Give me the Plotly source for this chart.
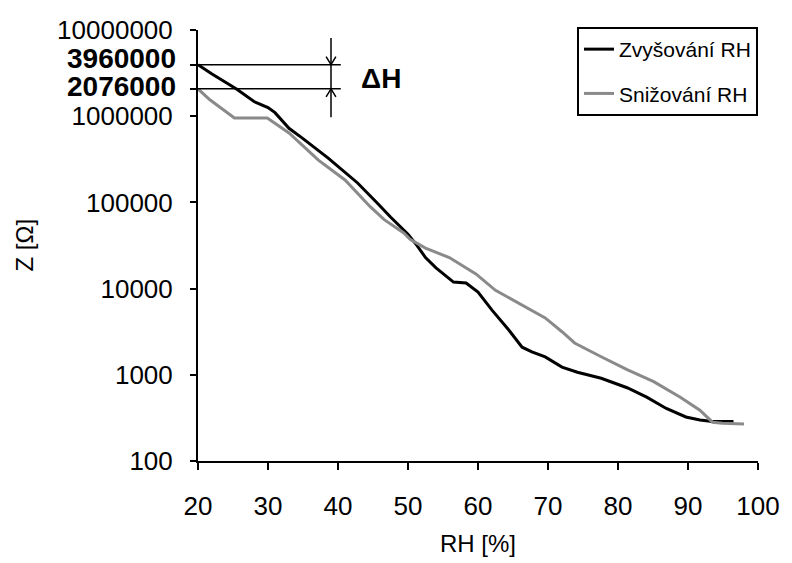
import numpy as np
import plotly.graph_objects as go

# Relative humidity [%] and impedance Z [Ohm] for rising RH
rh_up = [20, 22, 25.5, 28, 30, 31, 33, 35, 38.6, 42.8, 45.6, 47.5, 50, 51.3, 52.5,
         54, 56.5, 58.3, 60, 62, 64.4, 66.3, 67.7, 69.6, 72, 74.2, 77.6, 81.3,
         84.1, 86.9, 89.7, 91.7, 93.5, 96.5]
z_up = [3960000, 3090000, 2070000, 1480000, 1260000, 1100000, 724000, 550000,
        327000, 168000, 98400, 67600, 42700, 31600, 22900, 17400, 11900, 11600,
        9120, 5620, 3310, 2090, 1840, 1610, 1230, 1070, 912, 708, 550, 407, 324,
        299, 288, 288]

# Relative humidity [%] and impedance Z [Ohm] for falling RH
rh_down = [20, 21.7, 25.2, 29.9, 33, 37.2, 41, 44.6, 46.6, 49.4, 50.3, 52.5, 55.9,
           59.7, 62.5, 65.8, 69.6, 72, 73.8, 77.6, 81.3, 85.1, 88.9, 91.7, 93.5,
           94.9, 98]
z_down = [2076000, 1550000, 955000, 955000, 638000, 309000, 182000, 89100, 63100,
          44200, 37200, 29500, 22900, 14800, 9550, 6760, 4570, 3160, 2340, 1620,
          1150, 832, 550, 389, 282, 275, 269]

series_names = ["Zvyšování RH", "Snižování RH"]
series_colors = ["#000000", "#8a8a8a"]

x_ticks = [20, 30, 40, 50, 60, 70, 80, 90, 100]
y_ticks = [100, 1000, 10000, 100000, 1000000, 10000000]
y_tick_text = ["100", "1000", "10000", "100000", "1000000", "10000000"]

# Hysteresis markers: Z at RH = 20 % for both directions
hyst_values = [3960000, 2076000]
hyst_labels = ["3960000", "2076000"]
hyst_text = "ΔH"

FONT = "Liberation Sans, Arial, sans-serif"

fig = go.Figure()
for xs, ys, name, col in [(rh_up, z_up, series_names[0], series_colors[0]),
                          (rh_down, z_down, series_names[1], series_colors[1])]:
    fig.add_trace(go.Scatter(x=xs, y=ys, mode="lines", name=name, legendgroup=name,
                             line=dict(color=col, width=3)))

# ΔH bracket: two horizontal guides, a vertical bar and chevrons
hi, lo = hyst_values
x_bar, x_end = 39.0, 40.4
dec = 0.0928  # ~8 px in decades
half = 0.7    # ~5 px in RH units
line_style = dict(color="black", width=1.5)
shapes = [
    dict(type="line", xref="x", yref="y", x0=20, x1=x_end, y0=hi, y1=hi, line=line_style),
    dict(type="line", xref="x", yref="y", x0=20, x1=x_end, y0=lo, y1=lo, line=line_style),
    dict(type="line", xref="x", yref="y", x0=x_bar, x1=x_bar,
         y0=10 ** (np.log10(hi) + 0.31), y1=10 ** (np.log10(lo) - 0.33), line=line_style),
    dict(type="path", xref="x", yref="y", line=line_style,
         path=f"M{x_bar - half},{10 ** (np.log10(hi) + dec)} L{x_bar},{hi} L{x_bar + half},{10 ** (np.log10(hi) + dec)}"),
    dict(type="path", xref="x", yref="y", line=line_style,
         path=f"M{x_bar - half},{10 ** (np.log10(lo) - dec)} L{x_bar},{lo} L{x_bar + half},{10 ** (np.log10(lo) - dec)}"),
]

annotations = [
    dict(text=hyst_labels[0], xref="paper", yref="y", x=0, y=np.log10(hi),
         xanchor="right", yanchor="middle", xshift=-20, yshift=6, showarrow=False,
         font=dict(family=FONT, size=28, color="black", weight="bold")),
    dict(text=hyst_labels[1], xref="paper", yref="y", x=0, y=np.log10(lo),
         xanchor="right", yanchor="middle", xshift=-20, yshift=2, showarrow=False,
         font=dict(family=FONT, size=28, color="black", weight="bold")),
    dict(text=hyst_text, xref="x", yref="y", x=x_end, y=(np.log10(hi) + np.log10(lo)) / 2,
         xanchor="left", yanchor="middle", xshift=18, yshift=-2, showarrow=False,
         font=dict(family=FONT, size=28, color="black", weight="bold")),
    dict(text="RH [%]", xref="paper", yref="paper", x=0.5, y=0, xanchor="center",
         yanchor="middle", yshift=-82, showarrow=False,
         font=dict(family=FONT, size=24, color="black")),
    dict(text="Z [Ω]", xref="paper", yref="paper", x=0, y=0.5, xanchor="center",
         yanchor="middle", xshift=-174, textangle=-90, showarrow=False,
         font=dict(family=FONT, size=24, color="black")),
]

fig.update_layout(
    width=792, height=563,
    margin=dict(l=198, r=26, t=30, b=102, pad=0),
    paper_bgcolor="white", plot_bgcolor="white",
    font=dict(family=FONT, size=26, color="black"),
    shapes=shapes, annotations=annotations,
    showlegend=True,
    legend=dict(x=1, y=1.007, xanchor="right", yanchor="top",
                bgcolor="white", bordercolor="black", borderwidth=2,
                font=dict(family=FONT, size=21, color="black"),
                traceorder="grouped", tracegroupgap=14),
)
fig.update_xaxes(range=[20, 100], tickvals=x_ticks, showgrid=False, zeroline=False,
                 showline=True, linecolor="black", linewidth=2, ticks="outside",
                 ticklen=7, tickwidth=2, tickcolor="black", ticklabelstandoff=14,
                 tickfont=dict(family=FONT, size=26, color="black"))
fig.update_yaxes(type="log", range=[2, 7],
                 tickvals=y_ticks + hyst_values, ticktext=y_tick_text + ["", ""],
                 showgrid=False, zeroline=False, showline=True, linecolor="black",
                 linewidth=2, ticks="outside", ticklen=6, tickwidth=2, tickcolor="black",
                 ticklabelstandoff=12, tickfont=dict(family=FONT, size=26, color="black"))

fig.write_html("out.html")
